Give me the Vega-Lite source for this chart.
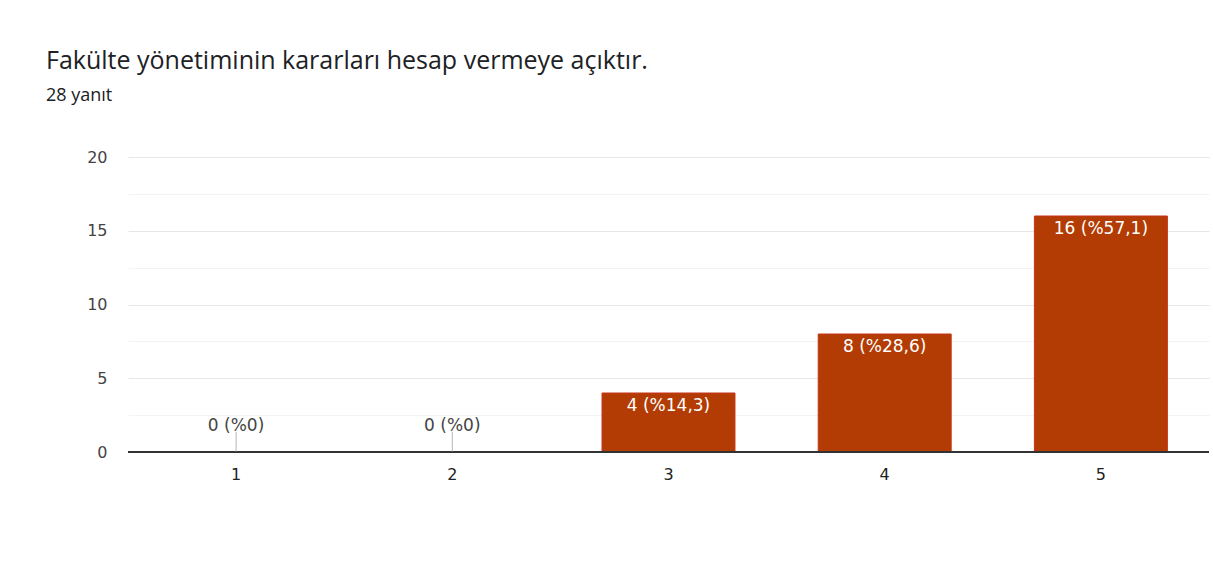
{
  "$schema": "https://vega.github.io/schema/vega-lite/v6.json",
  "autosize": {"type": "none"},
  "width": 1081,
  "height": 295,
  "padding": {"left": 128, "top": 157, "right": 4, "bottom": 124},
  "background": "white",
  "title": {
    "text": "Fakülte yönetiminin kararları hesap vermeye açıktır.",
    "subtitle": "28 yanıt",
    "anchor": "start",
    "frame": "group",
    "dx": -82,
    "offset": 44,
    "font": "Open Sans",
    "fontSize": 25,
    "fontWeight": "normal",
    "color": "#202124",
    "subtitleFont": "Open Sans",
    "subtitleFontSize": 18,
    "subtitleColor": "#202124",
    "subtitlePadding": 13
  },
  "data": {
    "values": [
      {"option": "1", "count": 0, "label": "0 (%0)"},
      {"option": "2", "count": 0, "label": "0 (%0)"},
      {"option": "3", "count": 4, "label": "4 (%14,3)"},
      {"option": "4", "count": 8, "label": "8 (%28,6)"},
      {"option": "5", "count": 16, "label": "16 (%57,1)"}
    ]
  },
  "encoding": {
    "x": {
      "field": "option",
      "type": "nominal",
      "sort": null,
      "scale": {"paddingInner": 0.385, "paddingOuter": 0.1925},
      "axis": {
        "title": null,
        "labelAngle": 0,
        "labelFont": "DejaVu Sans",
        "labelFontSize": 16,
        "labelColor": "#222222",
        "labelPadding": 14,
        "ticks": false,
        "domain": false,
        "grid": false
      }
    },
    "y": {
      "field": "count",
      "type": "quantitative",
      "scale": {"domain": [0, 20], "nice": false},
      "axis": {
        "title": null,
        "values": [0, 2.5, 5, 7.5, 10, 12.5, 15, 17.5, 20],
        "labelExpr": "datum.value % 5 === 0 ? datum.label : ''",
        "labelFont": "DejaVu Sans",
        "labelFontSize": 16,
        "labelColor": "#444444",
        "labelPadding": 21,
        "ticks": false,
        "domain": false,
        "grid": true,
        "gridColor": {"condition": {"test": "datum.value % 5 === 0", "value": "#e6e6e6"}, "value": "#f3f3f3"},
        "gridWidth": 1
      }
    }
  },
  "layer": [
    {
      "mark": {"type": "bar", "color": "#b33c04", "stroke": "#c8331a", "strokeWidth": 1},
      "encoding": {}
    },
    {
      "mark": {"type": "rule", "color": "#333333", "strokeWidth": 1.5},
      "encoding": {"x": {}, "y": {"datum": 0}}
    },
    {
      "transform": [{"filter": "datum.count > 0"}],
      "mark": {"type": "text", "baseline": "top", "dy": 5, "font": "DejaVu Sans", "fontSize": 17, "color": "white"},
      "encoding": {"text": {"field": "label"}}
    },
    {
      "transform": [{"filter": "datum.count == 0"}],
      "mark": {"type": "tick", "orient": "vertical", "size": 20, "thickness": 1, "yOffset": -10, "color": "#999999"},
      "encoding": {}
    },
    {
      "transform": [{"filter": "datum.count == 0"}],
      "mark": {"type": "text", "baseline": "alphabetic", "dy": -21, "font": "DejaVu Sans", "fontSize": 17, "color": "#444444"},
      "encoding": {"text": {"field": "label"}}
    }
  ],
  "config": {"view": {"stroke": null}}
}
